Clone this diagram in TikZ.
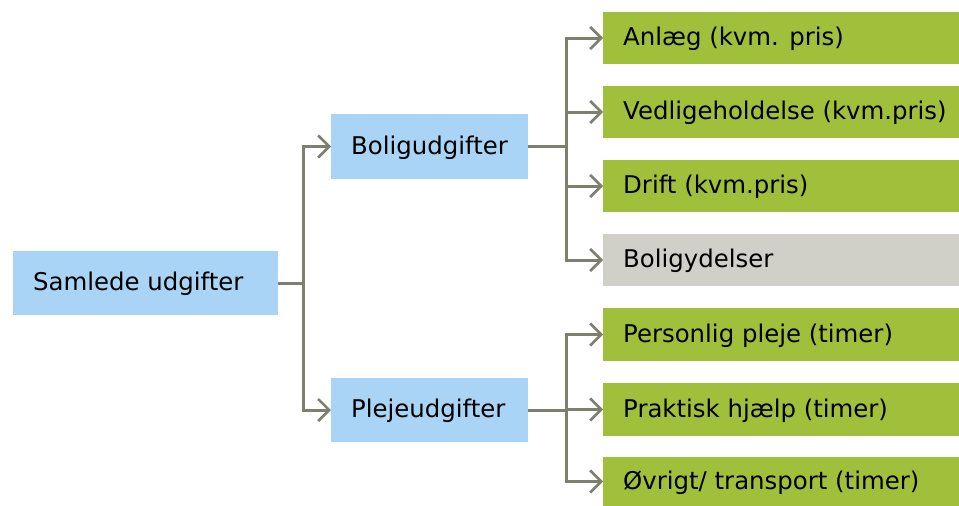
\documentclass[tikz,border=0pt]{standalone}
\usepackage{fontspec}
\setmainfont{DejaVu Sans}
\usetikzlibrary{arrows.meta}
\definecolor{bluebox}{HTML}{A9D4F5}
\definecolor{greenbox}{HTML}{A0C03C}
\definecolor{graybox}{HTML}{D0D0C8}
\definecolor{linec}{HTML}{7F7F6F}
\begin{document}
\begin{tikzpicture}[x=1pt,y=-1pt,
  lbl/.style={anchor=west,inner sep=0pt,font=\fontsize{24.4}{28}\selectfont},
  conn/.style={draw=linec,line width=3pt},
  arr/.style={conn,-{Straight Barb[length=11pt,width=22pt,line width=2.6pt]}}]
\useasboundingbox (0,0) rectangle (959,506);
% boxes
\fill[bluebox] (13,251) rectangle (278,315);
\node[lbl] (sam) at (33,284) {Samlede udgifter};
\coordinate (s) at (278,283);
\fill[bluebox] (331,114) rectangle (528,179);
\node[lbl] (bol) at (351,147.5) {Boligudgifter};
\fill[bluebox] (331,378) rectangle (528,442);
\node[lbl] (ple) at (351,411) {Plejeudgifter};
\coordinate (b) at (528,146.5);
\coordinate (p) at (528,410);
\coordinate (bl) at (331,146.5);
\coordinate (pl) at (331,410);
% right
\foreach \n/\t/\b/\c/\txt in {a/12/64/greenbox/{Anlæg (kvm. pris)},
  v/86/138/greenbox/{Vedligeholdelse (kvm.pris)},
  d/160/212/greenbox/{Drift (kvm.pris)},
  g/234/286/graybox/{Boligydelser},
  pp/308/361/greenbox/{Personlig pleje (timer)},
  ph/383/436/greenbox/{Praktisk hjælp (timer)},
  o/457/506/greenbox/{Øvrigt/ transport (timer)}}{
  \fill[\c] (603,\t) rectangle (959,\b);
  \node[lbl] (\n) at (623,{(\t+\b)/2+1}) {\txt};
  \coordinate (\n l) at (603,{(\t+\b)/2});
}
% connectors
\draw[conn] (s) -- (303,283);
\draw[arr] (303,283) |- (bl);
\draw[arr] (303,283) |- (pl);
\draw[conn] (b) -- (566,146.5);
\foreach \n in {a,v,d,g}{\draw[arr] (566,146.5) |- (\n l);}
\draw[conn] (p) -- (566,410);
\foreach \n in {pp,ph,o}{\draw[arr] (566,410) |- (\n l);}
\end{tikzpicture}
\end{document}
